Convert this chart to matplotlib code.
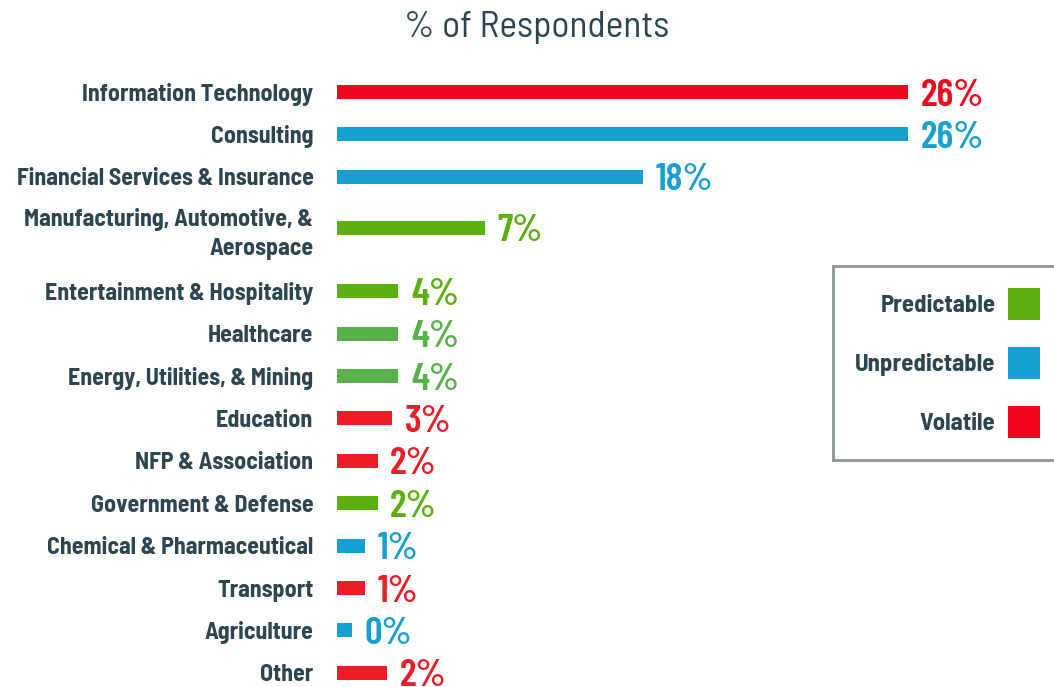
import matplotlib
matplotlib.use("Agg")
import matplotlib.pyplot as plt
from matplotlib.patches import Patch
from matplotlib import font_manager
from matplotlib.font_manager import FontProperties

# ---------------- data ----------------
categories = [
    "Information Technology",
    "Consulting",
    "Financial Services & Insurance",
    "Manufacturing, Automotive, &\nAerospace",
    "Entertainment & Hospitality",
    "Healthcare",
    "Energy, Utilities, & Mining",
    "Education",
    "NFP & Association",
    "Government & Defense",
    "Chemical & Pharmaceutical",
    "Transport",
    "Agriculture",
    "Other",
]
# bar lengths as drawn in the reference (percent units)
bar_lengths = [26.0, 26.0, 13.95, 6.75, 2.8, 2.8, 2.8, 2.5, 1.85, 1.85, 1.27, 1.27, 0.67, 2.27]
# printed value labels
value_labels = ["26%", "26%", "18%", "7%", "4%", "4%", "4%", "3%", "2%", "2%", "1%", "1%", "0%", "2%"]
# outlook type per category
outlook = ["Volatile", "Unpredictable", "Unpredictable", "Predictable", "Predictable",
           "Predictable2", "Predictable2", "Volatile2", "Volatile2", "Predictable",
           "Unpredictable", "Volatile2", "Unpredictable", "Volatile2"]
legend_labels = ["Predictable", "Unpredictable", "Volatile"]
title = "% of Respondents"

# ---------------- style ----------------
colors = {
    "Predictable": "#5BAF0E",
    "Predictable2": "#57B04A",
    "Unpredictable": "#16A0D1",
    "Volatile": "#F2051A",
    "Volatile2": "#ED1C26",
}
text_color = "#2C4550"

files = {f.fname.split("/")[-1]: f.fname for f in font_manager.fontManager.ttflist}


def pick(candidates, fallback_weight):
    for c in candidates:
        if c in files:
            return FontProperties(fname=files[c])
    return FontProperties(family="DejaVu Sans", weight=fallback_weight)


fp_label = pick(["BarlowSemiCondensed-Bold.ttf", "BarlowSemiCondensed-SemiBold.ttf",
                 "RobotoCondensed-Bold.ttf"], "bold")
fp_value = pick(["BarlowCondensed-SemiBold.ttf", "BarlowSemiCondensed-SemiBold.ttf",
                 "RobotoCondensed-Bold.ttf"], "bold")
fp_title = pick(["BarlowSemiCondensed-Regular.ttf", "BarlowCondensed-Regular.ttf",
                 "RobotoCondensed-Regular.ttf"], "normal")

W, H = 1054, 687
fig = plt.figure(figsize=(W / 100, H / 100), dpi=100)
fig.patch.set_facecolor("white")

x0_px = 337
px_per_unit_x = 21.96
px_per_row = 42.4
first_row_px = 92

ax = fig.add_axes([x0_px / W, 0, 1 - x0_px / W, 1])
ax.set_facecolor("none")

# row positions (extra room for the two-line label)
positions = []
for i in range(len(categories)):
    extra = 0.0
    if i == 3:
        extra = 0.2
    elif i >= 4:
        extra = 0.7
    positions.append(i + extra)

bar_colors = [colors[o] for o in outlook]
bar_h = 14 / px_per_row
ax.barh(positions, bar_lengths, height=bar_h, color=bar_colors, left=0)

fpv = fp_value.copy()
fpv.set_size(28)
for p, v, lab, c in zip(positions, bar_lengths, value_labels, bar_colors):
    ax.annotate(lab, xy=(v, p), xytext=(9, 0), textcoords="offset points",
                ha="left", va="center_baseline", color=c, fontproperties=fpv)

ax.set_xlim(0, (W - x0_px) / px_per_unit_x)
ax.set_ylim((H - first_row_px) / px_per_row, -first_row_px / px_per_row)

fpl = fp_label.copy()
fpl.set_size(17.2)
ax.set_yticks(positions)
ax.set_yticklabels(categories, color=text_color, ha="right", multialignment="right")
for t in ax.get_yticklabels():
    t.set_fontproperties(fpl)
    t.set_linespacing(1.45)
ax.tick_params(axis="y", length=0, pad=17)
ax.set_xticks([])
for s in ax.spines.values():
    s.set_visible(False)

fpt = fp_title.copy()
fpt.set_size(27)
fig.text(537 / W, 1 - 28 / H, title, ha="center", va="center",
         color=text_color, fontproperties=fpt)

# legend
leg_size = 17.8
fpg = fp_label.copy()
fpg.set_size(leg_size)
fs_px = leg_size * 100 / 72
hh = (32 - 0.245 * fs_px) / (0.65 * fs_px)
handles = [Patch(facecolor=colors[k], edgecolor="none", label=k) for k in legend_labels]
leg = fig.legend(handles=handles, loc="upper left",
                 bbox_to_anchor=(833 / W, 1 - 266 / H), bbox_transform=fig.transFigure,
                 borderaxespad=0, markerfirst=False, frameon=True, fancybox=False,
                 prop=fpg,
                 handlelength=32 / fs_px, handleheight=hh, labelspacing=27 / fs_px,
                 handletextpad=13 / fs_px, borderpad=22 / fs_px)
for t in leg.get_texts():
    t.set_color(text_color)
fr = leg.get_frame()
fr.set_edgecolor("#8C9496")
fr.set_linewidth(2)
fr.set_facecolor("white")
fr.set_alpha(1)

fig.savefig("out.png", dpi=100, facecolor="white")
